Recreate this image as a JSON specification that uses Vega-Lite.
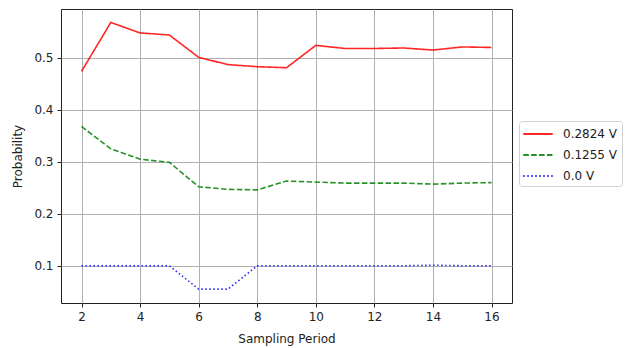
{
  "$schema": "https://vega.github.io/schema/vega-lite/v6.json",
  "width": 451,
  "height": 294,
  "autosize": {"type": "none"},
  "padding": {"left": 61, "top": 9, "right": 113, "bottom": 45},
  "background": "white",
  "config": {
    "font": "DejaVu Sans",
    "view": {"stroke": "#222", "strokeWidth": 1},
    "axis": {
      "labelFont": "DejaVu Sans", "titleFont": "DejaVu Sans",
      "labelFontSize": 12, "titleFontSize": 12, "labelColor": "#222", "titleColor": "#222",
      "titleFontWeight": "normal", "tickColor": "#222", "tickSize": 4, "domain": false,
      "gridColor": "#b0b0b0", "gridWidth": 1, "labelPadding": 4
    }
  },
  "data": {"values": [
    {"period": 2, "series": "0.2824 V", "prob": 0.474},
    {"period": 3, "series": "0.2824 V", "prob": 0.568},
    {"period": 4, "series": "0.2824 V", "prob": 0.548},
    {"period": 5, "series": "0.2824 V", "prob": 0.544},
    {"period": 6, "series": "0.2824 V", "prob": 0.501},
    {"period": 7, "series": "0.2824 V", "prob": 0.487},
    {"period": 8, "series": "0.2824 V", "prob": 0.483},
    {"period": 9, "series": "0.2824 V", "prob": 0.481},
    {"period": 10, "series": "0.2824 V", "prob": 0.524},
    {"period": 11, "series": "0.2824 V", "prob": 0.518},
    {"period": 12, "series": "0.2824 V", "prob": 0.518},
    {"period": 13, "series": "0.2824 V", "prob": 0.519},
    {"period": 14, "series": "0.2824 V", "prob": 0.515},
    {"period": 15, "series": "0.2824 V", "prob": 0.521},
    {"period": 16, "series": "0.2824 V", "prob": 0.520},
    {"period": 2, "series": "0.1255 V", "prob": 0.368},
    {"period": 3, "series": "0.1255 V", "prob": 0.325},
    {"period": 4, "series": "0.1255 V", "prob": 0.305},
    {"period": 5, "series": "0.1255 V", "prob": 0.299},
    {"period": 6, "series": "0.1255 V", "prob": 0.252},
    {"period": 7, "series": "0.1255 V", "prob": 0.247},
    {"period": 8, "series": "0.1255 V", "prob": 0.246},
    {"period": 9, "series": "0.1255 V", "prob": 0.263},
    {"period": 10, "series": "0.1255 V", "prob": 0.261},
    {"period": 11, "series": "0.1255 V", "prob": 0.259},
    {"period": 12, "series": "0.1255 V", "prob": 0.259},
    {"period": 13, "series": "0.1255 V", "prob": 0.259},
    {"period": 14, "series": "0.1255 V", "prob": 0.257},
    {"period": 15, "series": "0.1255 V", "prob": 0.259},
    {"period": 16, "series": "0.1255 V", "prob": 0.260},
    {"period": 2, "series": "0.0 V", "prob": 0.1},
    {"period": 3, "series": "0.0 V", "prob": 0.1},
    {"period": 4, "series": "0.0 V", "prob": 0.1},
    {"period": 5, "series": "0.0 V", "prob": 0.1},
    {"period": 6, "series": "0.0 V", "prob": 0.055},
    {"period": 7, "series": "0.0 V", "prob": 0.055},
    {"period": 8, "series": "0.0 V", "prob": 0.1},
    {"period": 9, "series": "0.0 V", "prob": 0.1},
    {"period": 10, "series": "0.0 V", "prob": 0.1},
    {"period": 11, "series": "0.0 V", "prob": 0.1},
    {"period": 12, "series": "0.0 V", "prob": 0.1},
    {"period": 13, "series": "0.0 V", "prob": 0.1},
    {"period": 14, "series": "0.0 V", "prob": 0.101},
    {"period": 15, "series": "0.0 V", "prob": 0.1},
    {"period": 16, "series": "0.0 V", "prob": 0.1}
  ]},
  "mark": {"type": "line", "strokeWidth": 1.6, "opacity": 0.85},
  "encoding": {
    "x": {"field": "period", "type": "quantitative", "title": "Sampling Period",
      "scale": {"domain": [1.3, 16.7], "nice": false, "zero": false},
      "axis": {"values": [2, 4, 6, 8, 10, 12, 14, 16], "format": "d", "titlePadding": 11}},
    "y": {"field": "prob", "type": "quantitative", "title": "Probability",
      "scale": {"domain": [0.0283, 0.594], "nice": false, "zero": false},
      "axis": {"values": [0.1, 0.2, 0.3, 0.4, 0.5], "format": ".1f", "titlePadding": 9}},
    "color": {"field": "series", "type": "nominal",
      "scale": {"domain": ["0.2824 V", "0.1255 V", "0.0 V"], "range": ["#ff0000", "#008000", "#0000ff"]},
      "legend": {"title": null, "orient": "none", "legendX": 458, "legendY": 112,
        "symbolType": "M-1.09,0H2.59", "symbolSize": 256, "symbolStrokeWidth": 2, "labelFontSize": 12,
        "labelFont": "DejaVu Sans", "labelColor": "#222", "rowPadding": 6, "labelOffset": 22,
        "strokeColor": "#d0d0d0", "fillColor": "white", "padding": 4, "cornerRadius": 3}},
    "strokeDash": {"field": "series", "type": "nominal",
      "scale": {"domain": ["0.2824 V", "0.1255 V", "0.0 V"], "range": [[1, 0], [5.5, 2.4], [1.5, 2.5]]},
      "legend": null}
  }
}
